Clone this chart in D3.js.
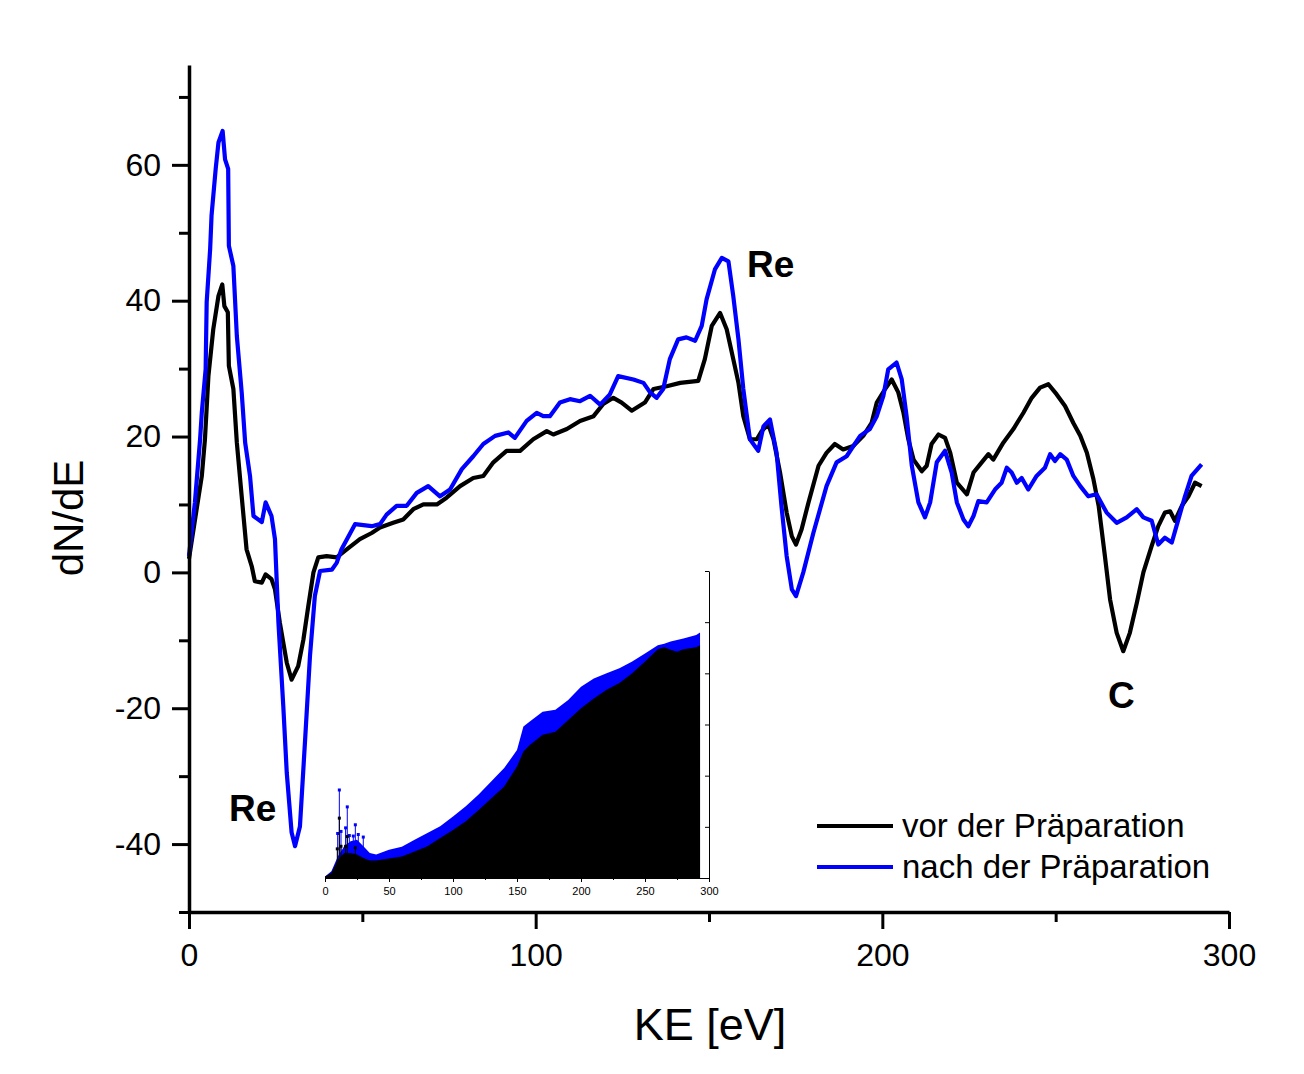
<!DOCTYPE html>
<html>
<head>
<meta charset="utf-8">
<script src="https://cdn.jsdelivr.net/npm/d3@7"></script>
<style>
html,body{margin:0;padding:0;background:#fff;}
svg{display:block;font-family:"Liberation Sans",Arial,sans-serif;}
</style>
</head>
<body>
<svg id="chart" width="1304" height="1074"></svg>
<script>
// ---------- DATA ----------
const blackX = [0,2.2,3.7,4.6,5.6,7.0,8.5,9.6,10.2,11.2,11.5,12.8,13.8,15.2,16.6,18.1,19.0,21.0,22.1,23.8,24.8,26.2,28.2,29.6,31.5,33.0,34.4,35.9,37.3,39.7,42.6,45.5,49.3,52.7,55.1,58.9,61.8,64.7,67.6,71.5,74.3,78.2,82.0,84.9,87.8,91.6,95.5,99.3,103.2,105.1,109.0,112.8,116.7,119.5,122.4,124.8,127.7,131.5,134.0,137.8,141.7,146.9,148.8,150.8,153.2,155.1,157.0,158.5,159.9,161.8,163.8,165.2,167.1,168.6,170.5,172.4,173.9,175.1,176.7,178.7,181.6,183.9,186.3,188.7,191.6,194.5,196.9,198.4,200.8,202.7,204.6,206.1,207.5,209.0,211.4,212.8,214.2,216.2,218.1,219.6,221.5,224.4,226.3,228.2,230.6,232.0,234.9,237.8,240.7,243.1,245.5,247.9,250.3,252.7,255.1,257.1,259.0,260.9,262.4,264.2,265.7,267.6,269.5,271.4,273.4,275.3,277.7,279.6,281.5,283.0,284.4,286.4,288.3,290.2,292.1];
const blackY = [2.0,9.3,14.2,19.6,28.9,35.8,40.7,42.4,39.2,38.3,30.4,27.0,19.1,11.2,3.4,0.9,-1.3,-1.5,-0.3,-1.0,-2.5,-7.4,-13.3,-15.8,-13.8,-9.9,-5.0,0,2.2,2.4,2.2,3.4,4.9,5.8,6.6,7.3,7.8,9.3,10.0,10.0,11.0,12.7,13.9,14.2,16.2,17.9,17.9,19.6,20.8,20.3,21.1,22.3,23.0,24.8,25.7,25.0,23.8,25.0,27.0,27.4,27.9,28.2,31.4,36.3,38.2,35.8,31.4,27.9,23.0,19.6,19.6,20.8,21.8,19.6,14.7,8.8,5.3,4.1,6.3,10.3,15.7,17.6,18.9,18.1,18.6,20.1,22.0,25.0,27.0,28.4,26.5,23.5,19.6,16.6,14.9,15.7,18.9,20.3,19.8,17.6,13.2,11.5,14.7,15.9,17.4,16.6,19.1,21.1,23.5,25.7,27.2,27.7,26.2,24.5,22.0,20.1,17.6,13.7,9.8,2.4,-4.0,-8.9,-11.6,-8.9,-4.5,0,3.9,6.8,8.8,9.0,7.6,9.8,11.2,13.2,12.7];

const blueX = [0,1.7,3.2,3.7,4.8,5.1,6.1,6.5,7.7,8.5,9.7,10.4,11.3,11.5,12.8,13.8,15.2,16.2,17.6,18.6,21.0,22.1,23.8,24.8,25.8,27.2,28.2,29.6,30.6,32.0,33.5,34.9,36.3,37.8,41.2,42.6,44.0,47.9,52.7,55.1,57.0,59.9,62.8,65.7,69.0,72.4,75.3,78.7,82.0,84.9,88.3,92.1,94.0,97.4,100.3,102.2,104.1,107.0,109.9,112.8,115.7,118.6,121.4,123.8,128.2,131.1,133.0,134.9,136.8,138.7,141.1,143.5,146.0,147.9,149.3,151.7,153.7,155.6,157.0,158.5,159.9,161.8,164.2,165.7,167.6,169.5,170.9,172.4,173.9,175.1,177.2,180.1,183.9,186.8,189.7,193.6,196.4,198.4,200.3,201.7,204.1,205.6,207.0,208.5,210.4,212.3,213.8,215.7,218.1,220.0,221.5,223.4,224.8,226.3,227.7,230.1,232.5,234.4,235.9,237.3,238.8,240.2,242.1,244.5,246.9,248.4,249.8,251.3,253.2,255.1,257.1,259.4,261.8,264.7,267.6,270.5,273.4,275.3,277.7,279.6,281.5,283.5,285.4,287.3,289.2,292.1];
const blueY = [2.4,10.3,19.6,23.6,29.9,39.8,47.6,52.5,59.4,63.3,65.0,60.8,59.4,48.1,45.1,34.8,26.5,19.1,14.2,8.3,7.4,10.3,8.3,4.9,-7.4,-19.7,-29.5,-38.3,-40.3,-37.4,-24.6,-12.3,-3.5,0.2,0.4,1.4,3.4,7.1,6.8,7.1,8.5,9.8,9.8,11.7,12.7,11.2,12.2,15.2,17.1,18.9,20.1,20.6,19.8,22.3,23.5,23.0,23.0,25.0,25.5,25.2,26.0,24.7,26.2,28.9,28.4,27.9,26.5,25.7,27.0,31.4,34.3,34.6,34.1,36.3,40.2,44.6,46.3,45.8,40.7,34.3,27.0,19.6,17.9,21.5,22.5,17.6,9.8,2.4,-2.5,-3.5,0,5.8,12.7,16.2,17.1,20.1,21.1,23.0,26.0,29.9,30.9,28.4,23.0,15.7,10.3,8.1,10.3,16.2,17.9,14.7,10.3,7.8,6.8,8.3,10.5,10.3,12.2,13.2,15.4,14.7,13.2,13.9,12.2,14.2,15.4,17.4,16.4,17.4,16.6,14.2,12.7,11.2,11.5,8.8,7.3,8.1,9.3,8.1,7.6,4.1,5.1,4.4,7.8,11.2,14.2,15.9];

// inset (arbitrary units, 0..6 on the inset's right axis)
const insetX      = [0,5,10,15,20,25,30,35,40,50,60,70,80,90,100,110,120,130,140,150,155,160,170,180,190,200,210,220,230,240,250,260,265,270,275,280,290,293];
const insetBlack  = [0.03,0.10,0.36,0.49,0.49,0.46,0.39,0.34,0.34,0.38,0.42,0.52,0.62,0.78,0.94,1.11,1.33,1.56,1.79,2.18,2.47,2.60,2.80,2.86,3.09,3.32,3.51,3.68,3.81,4.00,4.23,4.47,4.51,4.46,4.42,4.47,4.51,4.55];
const insetBlue   = [0.03,0.13,0.42,0.62,0.72,0.75,0.62,0.49,0.46,0.55,0.61,0.75,0.88,1.01,1.20,1.40,1.63,1.89,2.15,2.50,2.96,3.06,3.25,3.29,3.48,3.74,3.90,4.00,4.10,4.23,4.39,4.55,4.58,4.62,4.65,4.68,4.75,4.80];
const spikeBlueX  = [9.9,11.2,12.5,16.1,17.4,19.0,22.1,23.7,26.0,29.9];
const spikeBlueY  = [0.87,1.72,0.91,0.98,1.39,0.83,0.82,1.04,0.85,0.80];
const spikeBlackX = [9.6,11.2,12.5,16.1,17.4,23.7];
const spikeBlackY = [0.57,1.17,0.62,0.62,0.81,0.59];

const xTicksMajor = [0,100,200,300];
const xTicksMinor = [50,150,250];
const yTicksMajor = [-40,-20,0,20,40,60];
const yTicksMinor = [-50,-30,-10,10,30,50,70];
const insetXTicks = [0,50,100,150,200,250,300];
const insetXMinor = [25,75,125,175,225,275];
const insetYTicks = [0,1,2,3,4,5,6];

const seriesNames = ["vor der Präparation","nach der Präparation"];
const seriesColors = ["#000000","#0000ff"];

// ---------- DRAW ----------
const svg = d3.select("#chart");
const x = d3.scaleLinear().domain([0,300]).range([189,1229]);
const y = d3.scaleLinear().domain([-50,74.7]).range([912,65]);
const fmt = d => String(d);

// inset
const ix = d3.scaleLinear().domain([0,300]).range([325,709]);
const iy = d3.scaleLinear().domain([0,6]).range([878,571]);
const gi = svg.append("g");
const area = d3.area().x((d,i)=>ix(insetX[i])).y0(iy(0)).y1(d=>iy(d)).curve(d3.curveLinear);
gi.append("path").attr("d",area(insetBlue)).attr("fill","#0000ff");
spikeBlueX.forEach((sx,i)=>{
  gi.append("line").attr("x1",ix(sx)).attr("x2",ix(sx)).attr("y1",iy(0)).attr("y2",iy(spikeBlueY[i])).attr("stroke","#0000ff").attr("stroke-width",1);
  gi.append("rect").attr("x",ix(sx)-1.5).attr("y",iy(spikeBlueY[i])-1.5).attr("width",3).attr("height",3).attr("fill","#0000ff");
});
gi.append("path").attr("d",area(insetBlack)).attr("fill","#000");
spikeBlackX.forEach((sx,i)=>{
  gi.append("line").attr("x1",ix(sx)).attr("x2",ix(sx)).attr("y1",iy(0)).attr("y2",iy(spikeBlackY[i])).attr("stroke","#000").attr("stroke-width",1);
  gi.append("rect").attr("x",ix(sx)-1.5).attr("y",iy(spikeBlackY[i])-1.5).attr("width",3).attr("height",3).attr("fill","#000");
});
const iax = gi.append("g").attr("transform",`translate(0,${iy(0)})`)
  .call(d3.axisBottom(ix).tickValues(insetXTicks).tickSize(4).tickSizeOuter(0).tickFormat(fmt));
iax.selectAll("text").attr("font-size",11).attr("dy","0.9em").attr("font-family","Liberation Sans, Arial");
iax.select(".domain").attr("stroke-width",1);
gi.append("g").attr("transform",`translate(0,${iy(0)})`)
  .call(d3.axisBottom(ix).tickValues(insetXMinor).tickSize(2).tickFormat(""))
  .call(g=>g.select(".domain").remove());
const iay = gi.append("g").attr("transform",`translate(${ix(300)},0)`)
  .call(d3.axisLeft(iy).tickValues(insetYTicks).tickSize(4).tickSizeOuter(0).tickFormat(""));
iay.select(".domain").attr("stroke-width",1);

// main curves
const line = (xs)=>d3.line().x((d,i)=>x(xs[i])).y(d=>y(d)).curve(d3.curveLinear);
svg.append("path").attr("d",line(blackX)(blackY)).attr("fill","none").attr("stroke",seriesColors[0]).attr("stroke-width",4.2).attr("stroke-linejoin","round");
svg.append("path").attr("d",line(blueX)(blueY)).attr("fill","none").attr("stroke",seriesColors[1]).attr("stroke-width",4.2).attr("stroke-linejoin","round");

// axes
const ax = svg.append("g").attr("transform",`translate(0,${y(-50)})`)
  .call(d3.axisBottom(x).tickValues(xTicksMajor).tickSize(17).tickSizeOuter(0).tickPadding(14).tickFormat(fmt));
ax.select(".domain").attr("stroke-width",3.5);
ax.selectAll(".tick line").attr("stroke-width",3);
ax.selectAll("text").attr("font-size",32).attr("font-family","Liberation Sans, Arial").attr("fill","#000");
svg.append("g").attr("transform",`translate(0,${y(-50)})`)
  .call(d3.axisBottom(x).tickValues(xTicksMinor).tickSize(10).tickFormat(""))
  .call(g=>{g.select(".domain").remove(); g.selectAll(".tick line").attr("stroke-width",3);});

const ay = svg.append("g").attr("transform",`translate(${x(0)},0)`)
  .call(d3.axisLeft(y).tickValues(yTicksMajor).tickSize(17).tickSizeOuter(0).tickPadding(11).tickFormat(fmt));
ay.select(".domain").attr("stroke-width",3.5);
ay.selectAll(".tick line").attr("stroke-width",3);
ay.selectAll("text").attr("font-size",32).attr("font-family","Liberation Sans, Arial").attr("fill","#000");
svg.append("g").attr("transform",`translate(${x(0)},0)`)
  .call(d3.axisLeft(y).tickValues(yTicksMinor).tickSize(10).tickFormat(""))
  .call(g=>{g.select(".domain").remove(); g.selectAll(".tick line").attr("stroke-width",3);});

// axis titles
svg.append("text").attr("x",710).attr("y",1040).attr("text-anchor","middle")
  .attr("font-size",45).text("KE [eV]");
svg.append("text").attr("transform","translate(83,518) rotate(-90)").attr("text-anchor","middle")
  .attr("font-size",42).text("dN/dE");

// annotations
const annText = ["Re","Re","C"];
const annPx = [[747,277],[229,821],[1108,708]];
annText.forEach((t,i)=>{
  svg.append("text").attr("x",annPx[i][0]).attr("y",annPx[i][1]).attr("font-size",37).attr("font-weight","bold").text(t);
});

// legend
const lg = svg.append("g");
seriesNames.forEach((n,i)=>{
  const ly = 826 + i*41;
  lg.append("line").attr("x1",817).attr("x2",893).attr("y1",ly).attr("y2",ly).attr("stroke",seriesColors[i]).attr("stroke-width",4);
  lg.append("text").attr("x",902).attr("y",ly+11).attr("font-size",33).text(n);
});
</script>
</body>
</html>
